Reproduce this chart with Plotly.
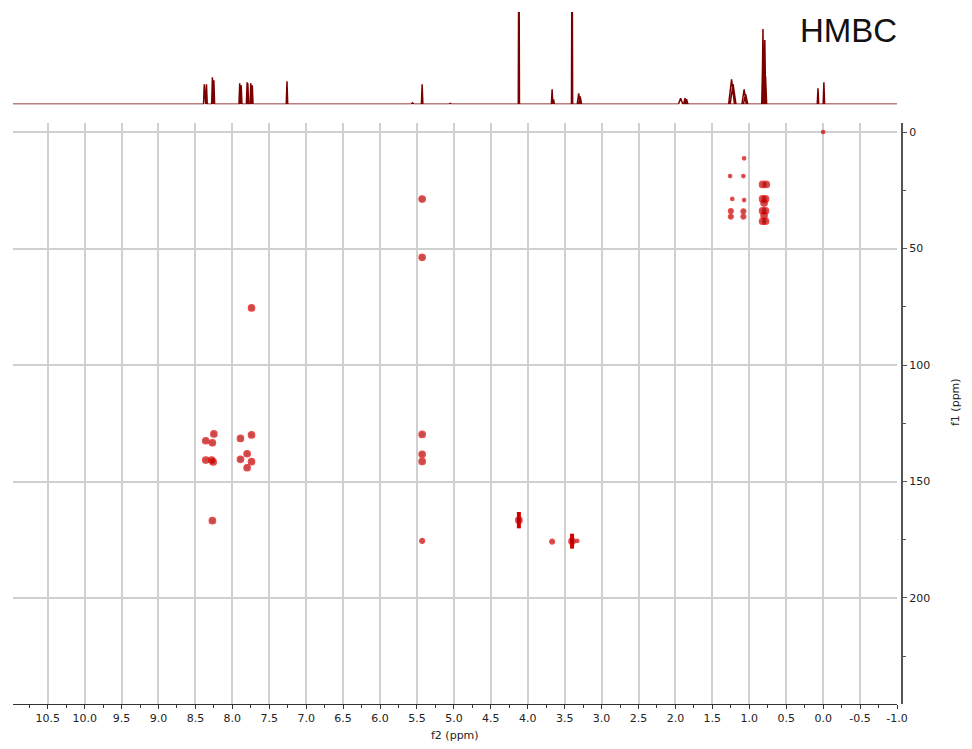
import plotly.graph_objects as go

# ---------------- data ----------------
# 1D proton spectrum (top trace): peak positions (ppm), heights (arb.), base half-widths (ppm)
h1_ppm = [8.38, 8.35, 8.27, 8.25, 7.90, 7.88, 7.80, 7.79, 7.75, 7.73, 7.26, 5.56, 5.43, 5.05,
          4.12, 3.67, 3.65, 3.40, 3.31, 3.29, 1.93, 1.87, 1.85, 1.24, 1.22, 1.07, 1.05,
          0.82, 0.815, 0.79, 0.78, 0.07, -0.01]
h1_height = [20, 20, 27, 24, 21, 19, 22, 21, 21, 19, 23, 1.5, 20, 1,
             200, 15, 5, 200, 11, 8, 6, 6, 5, 25, 20, 15, 10,
             41, 75, 64, 28, 16, 22]
h1_halfwidth = [0.01, 0.01, 0.01, 0.01, 0.01, 0.01, 0.01, 0.01, 0.01, 0.01, 0.01, 0.02, 0.01, 0.02,
                0.008, 0.01, 0.01, 0.008, 0.02, 0.02, 0.03, 0.02, 0.02, 0.04, 0.04, 0.03, 0.03,
                0.012, 0.012, 0.012, 0.015, 0.01, 0.01]

# HMBC cross peaks: f2 (1H, ppm), f1 (13C, ppm), relative intensity (1-3), f1 extent (ppm)
hmbc_f2 = [8.25, 8.36, 8.27, 8.36, 8.28, 8.26, 8.27,
           7.89, 7.74, 7.89, 7.80, 7.74, 7.80, 7.74,
           5.43, 5.43, 5.43, 5.43, 5.43, 5.43,
           4.12, 3.67, 3.40, 3.33,
           1.07, 1.26, 1.08, 1.23, 1.07, 1.25, 1.25, 1.08, 1.08,
           0.82, 0.77, 0.82, 0.78, 0.80, 0.82, 0.78, 0.80, 0.82, 0.78,
           0.00]
hmbc_f1 = [129.6, 132.5, 133.4, 140.8, 140.8, 141.6, 166.8,
           131.5, 130.0, 140.5, 138.1, 141.5, 144.1, 75.5,
           28.8, 53.8, 129.8, 138.3, 141.4, 175.5,
           166.6, 175.8, 175.6, 175.5,
           11.3, 18.9, 18.9, 28.7, 29.2, 33.9, 36.3, 34.0, 36.3,
           22.5, 22.5, 28.7, 28.7, 30.5, 33.8, 33.8, 35.8, 38.3, 38.3,
           0.0]
hmbc_int = [3, 3, 3, 3, 3, 3, 3,
            3, 3, 3, 3, 3, 3, 3,
            3, 3, 3, 3, 3, 2,
            3, 2, 3, 1,
            1, 1, 1, 1, 1, 2, 2, 2, 2,
            3, 3, 3, 3, 3, 3, 3, 3, 3, 3,
            1]
hmbc_extent = [0, 0, 0, 0, 0, 0, 0,
               0, 0, 0, 0, 0, 0, 0,
               0, 0, 0, 0, 0, 0,
               3.5, 0, 3.2, 0,
               0, 0, 0, 0, 0, 0, 0, 0, 0,
               0, 0, 0, 0, 0, 0, 0, 0, 0, 0,
               0]

x_tickvals = [10.5, 10.0, 9.5, 9.0, 8.5, 8.0, 7.5, 7.0, 6.5, 6.0, 5.5, 5.0, 4.5, 4.0,
              3.5, 3.0, 2.5, 2.0, 1.5, 1.0, 0.5, 0.0, -0.5, -1.0]
x_ticktext = ["10.5", "10.0", "9.5", "9.0", "8.5", "8.0", "7.5", "7.0", "6.5", "6.0", "5.5", "5.0",
              "4.5", "4.0", "3.5", "3.0", "2.5", "2.0", "1.5", "1.0", "0.5", "0.0", "-0.5", "-1.0"]
y_tickvals = [0, 50, 100, 150, 200]
y_ticktext = ["0", "50", "100", "150", "200"]

# ---------------- build 1D trace ----------------
X_LEFT, X_RIGHT = 10.97, -1.0
order = sorted(range(len(h1_ppm)), key=lambda i: -h1_ppm[i])
sx, sy = [X_LEFT], [0]
for i in order:
    p, h, w = h1_ppm[i], h1_height[i], h1_halfwidth[i]
    sx += [p + w, p, p - w]
    sy += [0, h, 0]
sx.append(X_RIGHT)
sy.append(0)

fig = go.Figure()

fig.add_trace(go.Scatter(x=sx, y=sy, mode="lines", xaxis="x2", yaxis="y2",
                         line=dict(color="#7a0000", width=1.5), hoverinfo="skip",
                         showlegend=False))

# elongated cross-peaks as error bars
ex = [hmbc_f2[i] for i in range(len(hmbc_f2)) if hmbc_extent[i] > 0]
ey = [hmbc_f1[i] for i in range(len(hmbc_f2)) if hmbc_extent[i] > 0]
ee = [hmbc_extent[i] for i in range(len(hmbc_f2)) if hmbc_extent[i] > 0]
fig.add_trace(go.Scatter(x=ex, y=ey, mode="markers",
                         marker=dict(size=1, color="#c00000"),
                         error_y=dict(type="data", array=ee, visible=True, color="#d00000",
                                      thickness=4, width=0),
                         showlegend=False, hoverinfo="skip"))

size_map = {1: 3.5, 2: 5, 3: 6.5}
fig.add_trace(go.Scatter(x=hmbc_f2, y=hmbc_f1, mode="markers",
                         marker=dict(size=[size_map[v] for v in hmbc_int],
                                     color="#b00000",
                                     line=dict(color="#e40000", width=1.2)),
                         showlegend=False))

# ---------------- layout ----------------
OFF = 8  # page body margin
W, H = 972 - 2 * OFF, 749 - 2 * OFF
px_x = lambda v: (v - OFF) / W
px_y = lambda v: (H - (v - OFF)) / H

tickfont = dict(family="DejaVu Sans", size=11, color="#222")

fig.update_layout(
    width=W, height=H,
    margin=dict(l=0, r=0, t=0, b=0, autoexpand=False),
    paper_bgcolor="white", plot_bgcolor="white",
    xaxis=dict(domain=[px_x(13), px_x(897)], range=[X_LEFT, X_RIGHT], anchor="y",
               automargin=False,
               showgrid=True, gridcolor="#d0d0d0", gridwidth=1.5,
               tickvals=x_tickvals, ticktext=x_ticktext, ticks="outside", ticklen=4,
               tickcolor="#333", showline=True, linecolor="#333", linewidth=1.2,
               minor=dict(dtick=0.25, ticks="outside", ticklen=3, tickcolor="#333", showgrid=False),
               zeroline=False, tickfont=tickfont),
    yaxis=dict(domain=[px_y(704), px_y(122.7)], range=[245.5, -4], anchor="free",
               position=px_x(902), side="right", automargin=False,
               showgrid=True, gridcolor="#d0d0d0", gridwidth=1.5,
               tickvals=y_tickvals, ticktext=y_ticktext, ticks="outside", ticklen=4,
               tickcolor="#555", showline=True, linecolor="#555", linewidth=2,
               minor=dict(tickvals=[25, 75, 125, 175, 225], ticks="outside", ticklen=3,
                          tickcolor="#555", showgrid=False),
               zeroline=False, tickfont=tickfont),
    xaxis2=dict(domain=[px_x(13), px_x(897)], range=[X_LEFT, X_RIGHT], anchor="y2",
                matches="x", visible=False, showgrid=False, automargin=False),
    yaxis2=dict(domain=[px_y(104.3), px_y(12)], range=[0, 92], anchor="x2",
                visible=False, showgrid=False, zeroline=False, automargin=False),
    annotations=[
        dict(text="HMBC", x=px_x(848), y=px_y(30), xref="paper", yref="paper",
             showarrow=False, font=dict(family="Liberation Sans", size=33, color="#111"),
             xanchor="center", yanchor="middle"),
        dict(text="f2 (ppm)", x=px_x(455), y=px_y(735), xref="paper", yref="paper",
             showarrow=False, font=dict(family="DejaVu Sans", size=11, color="#222"),
             xanchor="center", yanchor="middle"),
        dict(text="f1 (ppm)", x=px_x(955), y=px_y(402), xref="paper", yref="paper",
             showarrow=False, textangle=-90,
             font=dict(family="DejaVu Sans", size=11, color="#222"),
             xanchor="center", yanchor="middle"),
    ],
)

fig.write_html("out.html")
